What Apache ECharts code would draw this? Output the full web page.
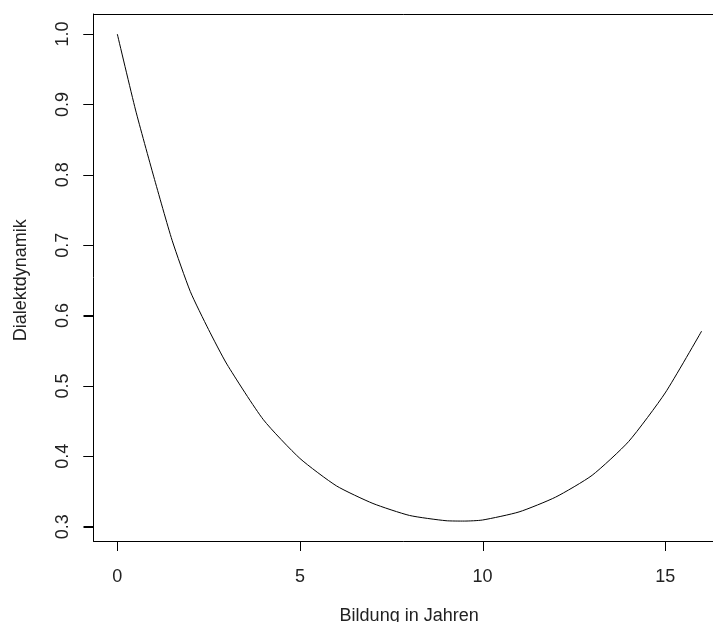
<!DOCTYPE html>
<html>
<head>
<meta charset="utf-8">
<script src="https://cdn.jsdelivr.net/npm/echarts@6/dist/echarts.min.js"></script>
<style>
  html, body { margin: 0; padding: 0; background: #fff; }
  #chart { width: 713px; height: 622px; }
</style>
</head>
<body>
<div id="chart"></div>
<script>
// Bildung in Jahren (x) and Dialektdynamik (y)
const bildung = [0, 0.5, 1, 1.5, 2, 2.5, 3, 4, 5, 6, 7, 8, 9, 9.5, 10, 11, 12, 13, 14, 15, 16];
const dialekt = [1.0, 0.892, 0.797, 0.707, 0.634, 0.58, 0.531, 0.452, 0.397, 0.358, 0.333, 0.316, 0.3085, 0.308, 0.3095, 0.321, 0.342, 0.373, 0.421, 0.490, 0.578];

const xTicks = [0, 5, 10, 15];
const yTicks = [0.3, 0.4, 0.5, 0.6, 0.7, 0.8, 0.9, 1.0];

const chart = echarts.init(document.getElementById('chart'));

const textColor = '#222';
const font = 'Liberation Sans, Arial, sans-serif';
const boxAxis = (pos) => ({
  gridIndex: 0, type: 'value', min: 1, max: 2, position: pos,
  axisLine: { show: true, lineStyle: { color: '#000', width: 1 } },
  axisTick: { show: false }, axisLabel: { show: false }, splitLine: { show: false }
});

// tick marks drawn through the data scale: [value, axis] pairs
const tickData = xTicks.map(v => [v, 0]).concat(yTicks.map(v => [v, 1]));

// grid 0 = R plot box (left, top, bottom edges; right edge is cut off in the picture)
// grid 1 = data region inside R's 4% margins
chart.setOption({
  animation: false,
  grid: [
    { left: 93.5, right: 0, top: 14, bottom: 81, outerBoundsMode: 'none' },
    { left: 117.3, right: 0, top: 34, bottom: 95.3, outerBoundsMode: 'none' }
  ],
  xAxis: [
    boxAxis('bottom'),
    boxAxis('top'),
    {
      gridIndex: 1,
      type: 'value',
      min: 0,
      max: 16.31,
      interval: 5,
      offset: 14.3,
      name: 'Bildung in Jahren',
      nameLocation: 'middle',
      nameGap: 66,
      nameTextStyle: { color: textColor, fontSize: 18, fontFamily: font, padding: [0, 12, 0, 0] },
      axisLine: { show: false },
      axisTick: { show: false },
      axisLabel: {
        showMaxLabel: false,
        margin: 27,
        color: textColor,
        fontSize: 18,
        fontFamily: font
      },
      splitLine: { show: false }
    },
    // only used so the data y axis is not pinned to x = 0
    { gridIndex: 1, type: 'value', min: 1, max: 2, show: false }
  ],
  yAxis: [
    boxAxis('left'),
    {
      gridIndex: 1,
      type: 'value',
      min: 0.3,
      max: 1.0,
      interval: 0.1,
      offset: 23.8,
      name: 'Dialektdynamik',
      nameLocation: 'middle',
      nameGap: 63,
      nameTextStyle: { color: textColor, fontSize: 18, fontFamily: font },
      axisLine: { show: false, onZeroAxisIndex: 3 },
      axisTick: { show: true, length: 10, lineStyle: { color: '#000', width: 1 } },
      axisLabel: {
        rotate: 90,
        margin: 21,
        color: textColor,
        fontSize: 18,
        fontFamily: font,
        formatter: v => v.toFixed(1)
      },
      splitLine: { show: false }
    }
  ],
  series: [{
    type: 'line',
    xAxisIndex: 2,
    yAxisIndex: 1,
    data: bildung.map((x, i) => [x, dialekt[i]]),
    showSymbol: false,
    smooth: 0.2,
    lineStyle: { color: '#000', width: 1 }
  }, {
    type: 'custom',
    xAxisIndex: 2,
    yAxisIndex: 1,
    data: tickData,
    clip: false,
    silent: true,
    renderItem: (params, api) => {
      const v = api.value(0);
      const isY = api.value(1) === 1;
      const p = isY ? api.coord([0, v]) : api.coord([v, 0.3]);
      let x1, y1, x2, y2;
      if (isY) {
        const x = p[0] - 23.8;
        x1 = x - 10; x2 = x; y1 = y2 = Math.round(p[1]) + 0.5;
      } else {
        const y = p[1] + 14.3;
        x1 = x2 = Math.round(p[0]) + 0.5; y1 = y; y2 = y + 10;
      }
      return {
        type: 'line',
        shape: { x1, y1, x2, y2 },
        style: { stroke: '#000', lineWidth: 1 }
      };
    }
  }]
});
</script>
</body>
</html>
